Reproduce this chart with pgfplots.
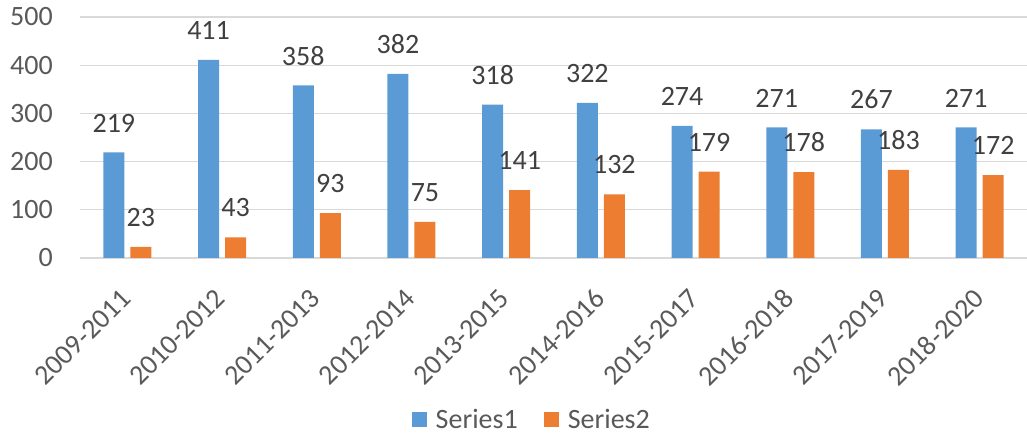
\documentclass[border=0pt]{standalone}
\usepackage{pgfplots}
\pgfplotsset{compat=1.18}
\usepackage{fontspec}
\setmainfont{Carlito}
\definecolor{sblue}{HTML}{5B9BD5}
\definecolor{sorange}{HTML}{ED7D31}
\definecolor{gridc}{HTML}{D9D9D9}
\definecolor{tickc}{HTML}{595959}
\definecolor{valc}{HTML}{404040}
\begin{document}
\begin{tikzpicture}
\useasboundingbox (0,0) rectangle (1027pt,435pt);
\begin{axis}[
  at={(80pt,177pt)}, anchor=south west,
  scale only axis, width=947pt, height=241pt,
  ymin=0, ymax=500, ytick={0,100,...,500},
  xmin=-0.5, xmax=9.5, xtick={0,...,9},
  xticklabels={2009-2011,2010-2012,2011-2013,2012-2014,2013-2015,2014-2016,2015-2017,2016-2018,2017-2019,2018-2020},
  ybar=6pt, bar width=21pt,
  axis line style={draw=none},
  major tick length=0pt,
  ymajorgrids, grid style={gridc, line width=1.3pt},
  font=\fontsize{28}{33}\selectfont,
  /pgf/number format/assume math mode=true,
  yticklabel style={text=tickc, anchor=east, inner sep=0pt, xshift=-27pt},
  xticklabel style={text=tickc, xshift=-8pt, yshift=-29pt, rotate=45, anchor=north east, inner sep=0pt},
  nodes near coords,
  nodes near coords style={text=valc, anchor=south, inner sep=0pt, yshift=20pt},
  legend style={at={(axis description cs:0.476,-0.672)}, anchor=center, draw=none, fill=none,
    legend columns=-1, text=tickc, font=\fontsize{28}{33}\selectfont,
    nodes={inner sep=0pt},
    /tikz/every odd column/.append style={column sep=9pt},
    /tikz/every even column/.append style={column sep=26pt}},
  legend image code/.code={\fill[#1] (0pt,-7.5pt) rectangle (15pt,7.5pt);},
]
\addplot[fill=sblue, draw=none] coordinates {(0,219) (1,411) (2,358) (3,382) (4,318) (5,322) (6,274) (7,271) (8,267) (9,271)};
\addplot[fill=sorange, draw=none] coordinates {(0,23) (1,43) (2,93) (3,75) (4,141) (5,132) (6,179) (7,178) (8,183) (9,172)};
\legend{Series1,Series2}
\end{axis}
\end{tikzpicture}
\end{document}
